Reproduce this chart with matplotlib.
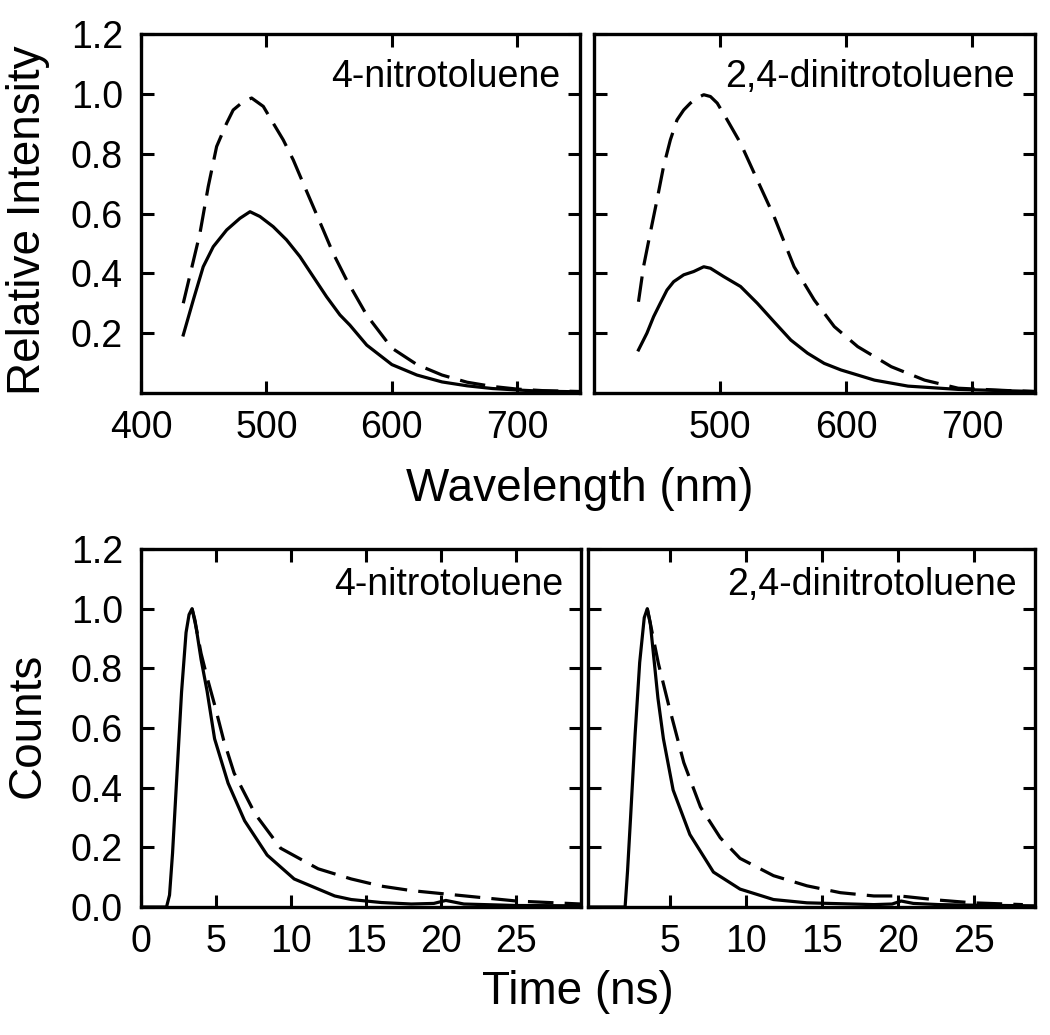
# Спектри та кінетика флуоресценції для 4-нітротолуолу і 2,4-динітротолуолу
import matplotlib
matplotlib.use("Agg")
import matplotlib.pyplot as plt

plt.rcParams["font.family"] = ["Liberation Sans", "DejaVu Sans"]

# --- спектри (нм, відносна інтенсивність) ---
nt_wl = [433.7, 441.7, 449.6, 457.6, 468.3, 478.9, 486.9, 494.8, 505.4, 516, 526.7, 537.3,
         547.9, 558.6, 566.5, 580, 600, 620, 640, 660, 680, 700, 720, 750]
nt_solid = [0.194, 0.311, 0.422, 0.489, 0.545, 0.584, 0.606, 0.59, 0.556, 0.512, 0.456, 0.389,
            0.322, 0.261, 0.227, 0.16, 0.095, 0.06, 0.037, 0.024, 0.015, 0.010, 0.006, 0.004]
nt_dash_wl = [433.7, 447, 453.6, 460.3, 468.3, 473.5, 481.5, 488.2, 497.5, 505.4, 513.4, 521.4,
              529.3, 537.3, 545.3, 553.2, 563.9, 580, 600, 620, 640, 660, 680, 700, 720, 750]
nt_dash = [0.30, 0.534, 0.69, 0.824, 0.902, 0.946, 0.974, 0.986, 0.958, 0.902, 0.846, 0.779,
           0.701, 0.623, 0.545, 0.467, 0.378, 0.26, 0.15, 0.095, 0.06, 0.036, 0.022, 0.013, 0.008, 0.005]

dnt_wl = [435.3, 442, 447.3, 452.6, 457.9, 463.2, 471.2, 479.1, 487.1, 492.4, 503, 516.3, 529.6,
          542.9, 556.2, 569.5, 582.7, 596, 622.6, 649.2, 689, 750]
dnt_solid = [0.144, 0.2, 0.255, 0.3, 0.344, 0.372, 0.395, 0.406, 0.422, 0.417, 0.389, 0.356, 0.3,
             0.238, 0.177, 0.133, 0.099, 0.077, 0.043, 0.023, 0.012, 0.005]
dnt_dash_wl = [435.3, 439.3, 444.6, 450, 455.2, 460.6, 465.9, 471.2, 476.5, 481.8, 487.1, 492.4,
               497.8, 505.7, 516.3, 529.6, 542.9, 558.8, 574.8, 590.7, 609.3, 635.9, 662.4, 689, 728.8, 750]
dnt_dash = [0.305, 0.422, 0.534, 0.645, 0.757, 0.846, 0.913, 0.946, 0.969, 0.986, 0.997, 0.991,
            0.969, 0.913, 0.835, 0.712, 0.59, 0.422, 0.311, 0.222, 0.155, 0.088, 0.043, 0.016, 0.008, 0.005]

# --- кінетика (нс, нормовані відліки) ---
nt_t = [0.0, 1.7, 1.9, 2.1, 2.4, 2.7, 3.0, 3.2, 3.4, 3.6, 4.0, 4.4, 4.9, 5.8, 6.9, 8.4, 10.2,
        12.9, 14.0, 16.0, 18.0, 19.5, 20.3, 21.5, 25.0, 29.3]
nt_t_solid = [0.0, 0.0, 0.04, 0.18, 0.45, 0.72, 0.92, 0.98, 1.0, 0.96, 0.83, 0.724, 0.564, 0.415,
              0.289, 0.174, 0.094, 0.037, 0.025, 0.015, 0.010, 0.012, 0.022, 0.01, 0.005, 0.004]
nt_td = [3.4, 3.7, 4.0, 4.4, 4.9, 5.5, 6.2, 7.6, 9.3, 11.8, 14.0, 16.0, 18.0, 20.0, 22.0, 25.0, 29.3]
nt_t_dash = [1.0, 0.93, 0.85, 0.77, 0.678, 0.56, 0.449, 0.312, 0.197, 0.128, 0.094, 0.07,
             0.055, 0.045, 0.035, 0.02, 0.01]

dnt_t = [-0.4, 2.04, 2.2, 2.4, 2.7, 3.0, 3.3, 3.5, 3.7, 4.0, 4.2, 4.56, 5.2, 6.3, 7.85, 9.6, 11.8,
         14.0, 18.4, 19.6, 20.2, 21.0, 22.7, 25.0, 29.0]
dnt_t_solid = [0.0, 0.0, 0.12, 0.3, 0.58, 0.82, 0.97, 1.0, 0.95, 0.8, 0.7, 0.564, 0.392, 0.243,
               0.117, 0.06, 0.025, 0.014, 0.008, 0.01, 0.02, 0.012, 0.008, 0.006, 0.004]
dnt_td = [3.5, 3.9, 4.23, 4.9, 5.9, 7.0, 8.3, 9.6, 11.8, 14.0, 16.2, 18.4, 20.1, 22.7, 24.9, 28.2]
dnt_t_dash = [1.0, 0.9, 0.816, 0.678, 0.484, 0.335, 0.232, 0.163, 0.105, 0.071, 0.048, 0.037,
              0.037, 0.023, 0.014, 0.008]

LW = 2.3
DASH = (8, 3.5)


def style(ax):
    for s in ax.spines.values():
        s.set_linewidth(2.4)
    ax.tick_params(direction="in", length=9, width=2.2, top=True, right=True,
                   labelsize=27)
    ax.tick_params(axis="x", pad=12)
    ax.tick_params(axis="y", pad=13)


fig = plt.figure(figsize=(10.5, 10.35), dpi=100)
W, H = 1050, 1035


def add(x0, x1, y0, y1):
    return fig.add_axes([x0 / W, 1 - y1 / H, (x1 - x0) / W, (y1 - y0) / H])


tl = add(141, 580, 34, 393)
tr = add(594, 1035, 34, 393)
bl = add(141, 581, 549, 907)
br = add(588, 1035, 549, 907)

# спектри
for ax, wl, sol, dwl, dsh, name in [(tl, nt_wl, nt_solid, nt_dash_wl, nt_dash, "4-nitrotoluene"),
                                      (tr, dnt_wl, dnt_solid, dnt_dash_wl, dnt_dash, "2,4-dinitrotoluene")]:
    ax.plot(wl, sol, color="black", lw=LW)
    ax.plot(dwl, dsh, color="black", lw=LW, dashes=DASH)
    ax.set_xlim(400, 750)
    ax.set_ylim(0, 1.2)
    ax.set_yticks([0.2, 0.4, 0.6, 0.8, 1.0, 1.2])
    ax.text(0.955, 0.88, name, transform=ax.transAxes, ha="right", va="center", fontsize=27)
    style(ax)

tl.set_xticks([400, 500, 600, 700])
tl.set_yticklabels(["0.2", "0.4", "0.6", "0.8", "1.0", "1.2"])
tr.set_xticks([500, 600, 700])
tr.set_yticklabels([])

# кінетика
for ax, t, sol, td, dsh, name, xl in [(bl, nt_t, nt_t_solid, nt_td, nt_t_dash, "4-nitrotoluene", (0, 29.3)),
                                        (br, dnt_t, dnt_t_solid, dnt_td, dnt_t_dash, "2,4-dinitrotoluene", (-0.4, 29.0))]:
    ax.plot(t, sol, color="black", lw=LW)
    ax.plot(td, dsh, color="black", lw=LW, dashes=DASH)
    ax.set_xlim(*xl)
    ax.set_ylim(0, 1.2)
    ax.set_yticks([0.0, 0.2, 0.4, 0.6, 0.8, 1.0, 1.2])
    ax.text(0.96, 0.9, name, transform=ax.transAxes, ha="right", va="center", fontsize=27)
    style(ax)

bl.set_xticks([0, 5, 10, 15, 20, 25])
bl.set_yticklabels(["0.0", "0.2", "0.4", "0.6", "0.8", "1.0", "1.2"])
br.set_xticks([5, 10, 15, 20, 25])
br.set_yticklabels([])

fig.text(28 / W, 1 - 220 / H, "Relative Intensity", rotation=90, ha="center", va="center", fontsize=33)
fig.text(28 / W, 1 - 725 / H, "Counts", rotation=90, ha="center", va="center", fontsize=33)
fig.text(580 / W, 1 - 489 / H, "Wavelength (nm)", ha="center", va="center", fontsize=33)
fig.text(578 / W, 1 - 992 / H, "Time (ns)", ha="center", va="center", fontsize=33)

fig.savefig("out.png", dpi=100)
